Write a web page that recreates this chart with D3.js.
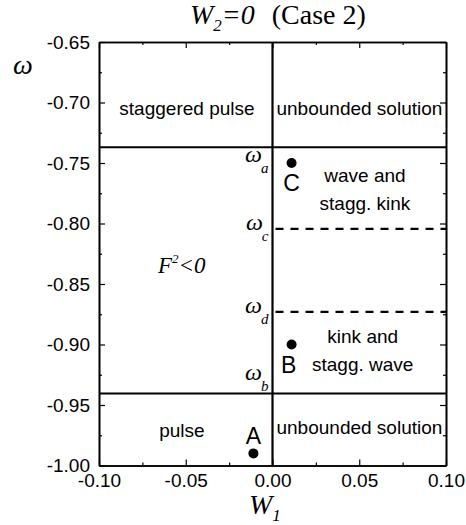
<!DOCTYPE html>
<html>
<head>
<meta charset="utf-8">
<script src="https://cdn.jsdelivr.net/npm/d3@7"></script>
<style>
  body { margin: 0; background: #fff; }
  svg { display: block; }
  .sans { font-family: "Liberation Sans", Arial, sans-serif; }
  .serif { font-family: "Liberation Serif", "Times New Roman", serif; }
</style>
</head>
<body>
<div id="chart"></div>
<script>
const WIDTH = 466;
const HEIGHT = 525;

// bordes de las regiones (valores de omega)
const omegaA = -0.737;
const omegaB = -0.9405;
const omegaC = -0.8045;
const omegaD = -0.873;

// puntos marcados
const pointNames = ["A", "B", "C"];
const pointW1 = [-0.011, 0.011, 0.011];
const pointOmega = [-0.99, -0.90, -0.75];

// ticks
const xTicks = [-0.10, -0.05, 0.00, 0.05, 0.10];
const xMinor = [-0.075, -0.025, 0.025, 0.075];
const yTicks = [-0.65, -0.70, -0.75, -0.80, -0.85, -0.90, -0.95, -1.00];
const yMinor = [-0.675, -0.725, -0.775, -0.825, -0.875, -0.925, -0.975];

// textos de regiones: lineas + ancla en unidades de datos
const regionText = [
  ["staggered pulse"],
  ["unbounded solution"],
  ["wave and", "stagg. kink"],
  ["kink and", "stagg. wave"],
  ["pulse"],
  ["unbounded solution"]
];
const regionW1 = [-0.0493, 0.0501, 0.0533, 0.052, -0.0522, 0.0501];
const regionOmega = [-0.7102, -0.7102, -0.7655, -0.8984, -0.9767, -0.9743];

// etiquetas omega_x junto a la linea W1 = 0
const omegaSubs = ["a", "c", "d", "b"];
const omegaLabelAt = [-0.7495, -0.8055, -0.874, -0.929];

const margin = { left: 99, right: 20, top: 42, bottom: 59.5 };

const svg = d3.select("#chart")
  .append("svg")
  .attr("width", WIDTH)
  .attr("height", HEIGHT);

const x = d3.scaleLinear()
  .domain([-0.10, 0.10])
  .range([margin.left, WIDTH - margin.right]);

const y = d3.scaleLinear()
  .domain([-1.00, -0.65])
  .range([HEIGHT - margin.bottom, margin.top]);

const fmt = d => d.toFixed(2);

// EJES (ticks hacia adentro en los 4 lados)
const bottom = svg.append("g")
  .attr("class", "sans")
  .attr("transform", `translate(0,${y(-1.00)})`)
  .call(d3.axisBottom(x).tickValues(xTicks).tickFormat(fmt).tickSize(-6).tickSizeOuter(0).tickPadding(8));
svg.append("g")
  .attr("transform", `translate(0,${y(-1.00)})`)
  .call(d3.axisBottom(x).tickValues(xMinor).tickFormat("").tickSize(-3).tickSizeOuter(0));

const left = svg.append("g")
  .attr("class", "sans")
  .attr("transform", `translate(${x(-0.10)},0)`)
  .call(d3.axisLeft(y).tickValues(yTicks).tickFormat(fmt).tickSize(-6).tickSizeOuter(0).tickPadding(9));
svg.append("g")
  .attr("transform", `translate(${x(-0.10)},0)`)
  .call(d3.axisLeft(y).tickValues(yMinor).tickFormat("").tickSize(-3).tickSizeOuter(0));

svg.append("g")
  .attr("transform", `translate(0,${y(-0.65)})`)
  .call(d3.axisTop(x).tickValues(xTicks).tickFormat("").tickSize(-6).tickSizeOuter(0));
svg.append("g")
  .attr("transform", `translate(0,${y(-0.65)})`)
  .call(d3.axisTop(x).tickValues(xMinor).tickFormat("").tickSize(-3).tickSizeOuter(0));

svg.append("g")
  .attr("transform", `translate(${x(0.10)},0)`)
  .call(d3.axisRight(y).tickValues(yTicks).tickFormat("").tickSize(-6).tickSizeOuter(0));
svg.append("g")
  .attr("transform", `translate(${x(0.10)},0)`)
  .call(d3.axisRight(y).tickValues(yMinor).tickFormat("").tickSize(-3).tickSizeOuter(0));

svg.selectAll(".domain").attr("stroke", "#000").attr("stroke-width", 1.6);
svg.selectAll(".tick line").attr("stroke", "#000").attr("stroke-width", 1.2);
svg.selectAll(".tick text").attr("font-size", 19).attr("fill", "#000");
bottom.selectAll(".tick text").attr("dy", "0.71em");

// LINEAS DE LAS REGIONES
svg.append("line")
  .attr("x1", x(0)).attr("x2", x(0))
  .attr("y1", y(-1.00)).attr("y2", y(-0.65))
  .attr("stroke", "#000").attr("stroke-width", 2.2);

[omegaA, omegaB].forEach(w => {
  svg.append("line")
    .attr("x1", x(-0.10)).attr("x2", x(0.10))
    .attr("y1", y(w)).attr("y2", y(w))
    .attr("stroke", "#000").attr("stroke-width", 2.2);
});

[omegaC, omegaD].forEach(w => {
  svg.append("line")
    .attr("x1", x(0)).attr("x2", x(0.10))
    .attr("y1", y(w)).attr("y2", y(w))
    .attr("stroke", "#000").attr("stroke-width", 2.2)
    .attr("stroke-dasharray", "8,7")
    .attr("stroke-dashoffset", -3);
});

// TEXTOS DE REGIONES
regionText.forEach((lines, i) => {
  const t = svg.append("text")
    .attr("class", "sans")
    .attr("font-size", 19)
    .attr("text-anchor", "middle")
    .attr("x", x(regionW1[i]))
    .attr("y", y(regionOmega[i]));
  lines.forEach((line, j) => {
    t.append("tspan")
      .attr("x", x(regionW1[i]))
      .attr("dy", j === 0 ? 0 : 28)
      .text(line);
  });
});

// F^2 < 0
const f2 = svg.append("text")
  .attr("class", "serif")
  .attr("font-size", 23)
  .attr("font-style", "italic")
  .attr("x", x(-0.066))
  .attr("y", y(-0.8406));
f2.append("tspan").text("F");
f2.append("tspan").attr("font-size", 13).attr("dy", -10).text("2");
f2.append("tspan").attr("dy", 10).text("<0");

// ETIQUETAS omega_x
omegaSubs.forEach((s, i) => {
  const t = svg.append("text")
    .attr("class", "serif")
    .attr("font-style", "italic")
    .attr("text-anchor", "end")
    .attr("x", x(0) - 4)
    .attr("y", y(omegaLabelAt[i]));
  t.append("tspan").attr("font-size", 24).text("\u03c9");
  t.append("tspan").attr("font-size", 15).attr("dy", 11).attr("dx", -1).text(s);
});

// PUNTOS
const puntos = svg.selectAll("g.punto")
  .data(pointNames)
  .join(enter => {
    const g = enter.append("g").attr("class", "punto");
    g.append("circle")
      .attr("cx", (d, i) => x(pointW1[i]))
      .attr("cy", (d, i) => y(pointOmega[i]))
      .attr("r", 5)
      .attr("fill", "#000");
    g.append("text")
      .attr("class", "sans")
      .attr("font-size", 23)
      .attr("text-anchor", "middle")
      .attr("x", (d, i) => x(pointW1[i]) + (d === "B" ? -3 : 0))
      // A va arriba del punto, B y C abajo
      .attr("y", (d, i) => y(pointOmega[i]) + (d === "A" ? -9 : 28))
      .text(d => d);
    return g;
  });

// TITULO
const title = svg.append("text")
  .attr("class", "serif")
  .attr("font-size", 28)
  .attr("x", 190)
  .attr("y", 24);
title.append("tspan").attr("font-style", "italic").text("W");
title.append("tspan").attr("font-style", "italic").attr("font-size", 17).attr("dy", 7).text("2");
title.append("tspan").attr("font-style", "italic").attr("dy", -7).text("=0");
title.append("tspan").attr("dx", 17).text("(Case 2)");

// ETIQUETAS DE EJES
svg.append("text")
  .attr("class", "serif")
  .attr("font-size", 28)
  .attr("font-style", "italic")
  .attr("x", 13)
  .attr("y", 74)
  .text("\u03c9");

const xl = svg.append("text")
  .attr("class", "serif")
  .attr("font-size", 28)
  .attr("font-style", "italic")
  .attr("x", 249)
  .attr("y", 514);
xl.append("tspan").text("W");
xl.append("tspan").attr("font-size", 17).attr("dy", 7).text("1");
</script>
</body>
</html>
